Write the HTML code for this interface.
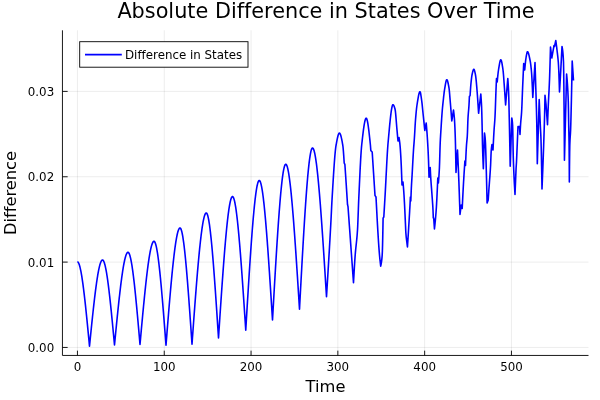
<!DOCTYPE html>
<html lang="en"><head><meta charset="utf-8"><title>Absolute Difference in States Over Time</title>
<style>html,body{margin:0;padding:0;background:#fff;overflow:hidden}svg{display:block}text{font-variant-ligatures:none;font-feature-settings:"liga" 0,"clig" 0;font-kerning:normal}</style></head>
<body>
<svg width="600" height="400" viewBox="0 0 600 400" font-family='"DejaVu Sans","Liberation Sans",sans-serif'>
<rect width="600" height="400" fill="#fff"/>
<g stroke="#000" stroke-opacity="0.075" stroke-width="1">
<line x1="77.45" y1="30.3" x2="77.45" y2="355.45"/>
<line x1="164.25" y1="30.3" x2="164.25" y2="355.45"/>
<line x1="251.05" y1="30.3" x2="251.05" y2="355.45"/>
<line x1="337.85" y1="30.3" x2="337.85" y2="355.45"/>
<line x1="424.65" y1="30.3" x2="424.65" y2="355.45"/>
<line x1="511.45" y1="30.3" x2="511.45" y2="355.45"/>
<line x1="62.45" y1="347.45" x2="588.5" y2="347.45"/>
<line x1="62.45" y1="262.10" x2="588.5" y2="262.10"/>
<line x1="62.45" y1="176.75" x2="588.5" y2="176.75"/>
<line x1="62.45" y1="91.40" x2="588.5" y2="91.40"/>
</g>
<g stroke="#000" stroke-width="0.9" fill="none">
<path d="M62.45,30.3 V355.45 H588.5" stroke-linejoin="miter"/>
<line x1="77.45" y1="355.45" x2="77.45" y2="350.65"/>
<line x1="164.25" y1="355.45" x2="164.25" y2="350.65"/>
<line x1="251.05" y1="355.45" x2="251.05" y2="350.65"/>
<line x1="337.85" y1="355.45" x2="337.85" y2="350.65"/>
<line x1="424.65" y1="355.45" x2="424.65" y2="350.65"/>
<line x1="511.45" y1="355.45" x2="511.45" y2="350.65"/>
<line x1="62.45" y1="347.45" x2="67.65" y2="347.45"/>
<line x1="62.45" y1="262.10" x2="67.65" y2="262.10"/>
<line x1="62.45" y1="176.75" x2="67.65" y2="176.75"/>
<line x1="62.45" y1="91.40" x2="67.65" y2="91.40"/>
</g>
<g font-size="11.85" fill="#000">
<text x="77.45" y="371.4" text-anchor="middle">0</text>
<text x="164.25" y="371.4" text-anchor="middle">100</text>
<text x="251.05" y="371.4" text-anchor="middle">200</text>
<text x="337.85" y="371.4" text-anchor="middle">300</text>
<text x="424.65" y="371.4" text-anchor="middle">400</text>
<text x="511.45" y="371.4" text-anchor="middle">500</text>
<text x="54.2" y="351.85" text-anchor="end">0.00</text>
<text x="54.2" y="266.50" text-anchor="end">0.01</text>
<text x="54.2" y="181.15" text-anchor="end">0.02</text>
<text x="54.2" y="95.80" text-anchor="end">0.03</text>
</g>
<text x="325.5" y="392" font-size="16.3" text-anchor="middle">Time</text>
<text transform="translate(16.3,193) rotate(-90)" font-size="16.3" text-anchor="middle">Difference</text>
<text x="326.0" y="18" font-size="20.8" text-anchor="middle">Absolute Difference in States Over Time</text>
<clipPath id="c"><rect x="62.45" y="30.3" width="526.05" height="325.15"/></clipPath>
<path clip-path="url(#c)" d="M77.40,261.80 L77.62,261.84 L77.84,261.97 L78.06,262.17 L78.28,262.45 L78.50,262.81 L78.72,263.25 L78.94,263.76 L79.16,264.35 L79.38,265.00 L79.60,265.73 L79.82,266.52 L80.04,267.38 L80.26,268.31 L80.48,269.30 L80.70,270.35 L80.92,271.46 L81.14,272.64 L81.36,273.87 L81.58,275.15 L81.80,276.49 L82.02,277.89 L82.24,279.33 L82.46,280.83 L82.68,282.38 L82.90,283.97 L83.12,285.61 L83.34,287.29 L83.56,289.01 L83.78,290.78 L84.00,292.58 L84.22,294.42 L84.44,296.30 L84.66,298.22 L84.88,300.17 L85.10,302.14 L85.32,304.15 L85.54,306.19 L85.76,308.26 L85.98,310.35 L86.20,312.47 L86.42,314.61 L86.64,316.77 L86.86,318.95 L87.08,321.15 L87.30,323.36 L87.52,325.59 L87.74,327.84 L87.96,330.09 L88.18,332.36 L88.40,334.64 L88.62,336.92 L88.84,339.21 L89.06,341.50 L89.28,343.80 L89.50,346.10 L89.72,343.95 L89.93,341.80 L90.15,339.65 L90.37,337.50 L90.58,335.36 L90.80,333.23 L91.02,331.10 L91.23,328.98 L91.45,326.87 L91.67,324.77 L91.88,322.69 L92.10,320.61 L92.32,318.56 L92.53,316.51 L92.75,314.49 L92.97,312.48 L93.18,310.49 L93.40,308.52 L93.62,306.57 L93.83,304.64 L94.05,302.74 L94.27,300.87 L94.48,299.02 L94.70,297.20 L94.92,295.40 L95.13,293.64 L95.35,291.91 L95.57,290.21 L95.78,288.54 L96.00,286.91 L96.22,285.31 L96.43,283.75 L96.65,282.23 L96.87,280.75 L97.08,279.31 L97.30,277.91 L97.52,276.55 L97.73,275.24 L97.95,273.98 L98.17,272.76 L98.38,271.58 L98.60,270.46 L98.82,269.39 L99.03,268.37 L99.25,267.40 L99.47,266.48 L99.68,265.63 L99.90,264.82 L100.12,264.08 L100.33,263.39 L100.55,262.76 L100.77,262.19 L100.98,261.69 L101.20,261.25 L101.42,260.87 L101.63,260.56 L101.85,260.32 L102.07,260.14 L102.28,260.04 L102.50,260.00 L102.72,260.04 L102.94,260.17 L103.15,260.37 L103.37,260.66 L103.59,261.02 L103.81,261.46 L104.03,261.98 L104.25,262.56 L104.46,263.22 L104.68,263.95 L104.90,264.75 L105.12,265.62 L105.34,266.55 L105.55,267.55 L105.77,268.61 L105.99,269.73 L106.21,270.91 L106.43,272.15 L106.65,273.45 L106.86,274.80 L107.08,276.20 L107.30,277.66 L107.52,279.17 L107.74,280.72 L107.95,282.33 L108.17,283.97 L108.39,285.67 L108.61,287.40 L108.83,289.18 L109.05,291.00 L109.26,292.86 L109.48,294.75 L109.70,296.68 L109.92,298.64 L110.14,300.63 L110.35,302.66 L110.57,304.71 L110.79,306.79 L111.01,308.90 L111.23,311.03 L111.45,313.18 L111.66,315.36 L111.88,317.56 L112.10,319.77 L112.32,322.00 L112.54,324.25 L112.75,326.51 L112.97,328.78 L113.19,331.06 L113.41,333.35 L113.63,335.65 L113.85,337.96 L114.06,340.27 L114.28,342.58 L114.50,344.90 L114.72,342.66 L114.94,340.42 L115.15,338.18 L115.37,335.95 L115.59,333.72 L115.81,331.50 L116.02,329.28 L116.24,327.08 L116.46,324.88 L116.68,322.69 L116.90,320.52 L117.11,318.35 L117.33,316.20 L117.55,314.07 L117.77,311.95 L117.98,309.85 L118.20,307.77 L118.42,305.71 L118.64,303.67 L118.85,301.65 L119.07,299.65 L119.29,297.68 L119.51,295.74 L119.73,293.82 L119.94,291.93 L120.16,290.07 L120.38,288.24 L120.60,286.44 L120.81,284.67 L121.03,282.94 L121.25,281.24 L121.47,279.58 L121.69,277.95 L121.90,276.36 L122.12,274.82 L122.34,273.31 L122.56,271.85 L122.77,270.43 L122.99,269.05 L123.21,267.72 L123.43,266.44 L123.65,265.20 L123.86,264.01 L124.08,262.87 L124.30,261.79 L124.52,260.75 L124.73,259.77 L124.95,258.85 L125.17,257.98 L125.39,257.17 L125.60,256.41 L125.82,255.72 L126.04,255.09 L126.26,254.51 L126.48,254.00 L126.69,253.56 L126.91,253.18 L127.13,252.87 L127.35,252.62 L127.56,252.44 L127.78,252.34 L128.00,252.30 L128.22,252.35 L128.44,252.48 L128.65,252.70 L128.87,253.01 L129.09,253.41 L129.31,253.88 L129.53,254.44 L129.75,255.08 L129.96,255.80 L130.18,256.59 L130.40,257.46 L130.62,258.40 L130.84,259.41 L131.05,260.49 L131.27,261.64 L131.49,262.86 L131.71,264.14 L131.93,265.48 L132.15,266.89 L132.36,268.35 L132.58,269.88 L132.80,271.46 L133.02,273.09 L133.24,274.78 L133.45,276.52 L133.67,278.31 L133.89,280.15 L134.11,282.03 L134.33,283.96 L134.55,285.93 L134.76,287.94 L134.98,290.00 L135.20,292.09 L135.42,294.22 L135.64,296.38 L135.85,298.57 L136.07,300.80 L136.29,303.06 L136.51,305.34 L136.73,307.66 L136.95,309.99 L137.16,312.35 L137.38,314.74 L137.60,317.14 L137.82,319.56 L138.04,322.00 L138.25,324.45 L138.47,326.91 L138.69,329.39 L138.91,331.88 L139.13,334.37 L139.35,336.87 L139.56,339.38 L139.78,341.89 L140.00,344.40 L140.22,341.98 L140.44,339.57 L140.66,337.16 L140.88,334.75 L141.09,332.34 L141.31,329.94 L141.53,327.55 L141.75,325.17 L141.97,322.80 L142.19,320.43 L142.41,318.08 L142.62,315.74 L142.84,313.42 L143.06,311.11 L143.28,308.82 L143.50,306.54 L143.72,304.29 L143.94,302.05 L144.16,299.84 L144.38,297.65 L144.59,295.48 L144.81,293.33 L145.03,291.22 L145.25,289.12 L145.47,287.06 L145.69,285.03 L145.91,283.03 L146.12,281.06 L146.34,279.12 L146.56,277.22 L146.78,275.35 L147.00,273.52 L147.22,271.73 L147.44,269.97 L147.66,268.26 L147.88,266.58 L148.09,264.95 L148.31,263.37 L148.53,261.83 L148.75,260.33 L148.97,258.88 L149.19,257.48 L149.41,256.13 L149.62,254.83 L149.84,253.58 L150.06,252.39 L150.28,251.25 L150.50,250.16 L150.72,249.13 L150.94,248.16 L151.16,247.25 L151.38,246.40 L151.59,245.61 L151.81,244.88 L152.03,244.21 L152.25,243.62 L152.47,243.08 L152.69,242.62 L152.91,242.22 L153.12,241.89 L153.34,241.63 L153.56,241.45 L153.78,241.34 L154.00,241.30 L154.22,241.35 L154.44,241.50 L154.65,241.75 L154.87,242.10 L155.09,242.55 L155.31,243.09 L155.53,243.72 L155.75,244.43 L155.96,245.24 L156.18,246.14 L156.40,247.11 L156.62,248.17 L156.84,249.31 L157.05,250.53 L157.27,251.83 L157.49,253.20 L157.71,254.64 L157.93,256.16 L158.15,257.74 L158.36,259.39 L158.58,261.11 L158.80,262.89 L159.02,264.73 L159.24,266.63 L159.45,268.60 L159.67,270.61 L159.89,272.68 L160.11,274.81 L160.33,276.98 L160.55,279.20 L160.76,281.47 L160.98,283.78 L161.20,286.14 L161.42,288.54 L161.64,290.98 L161.85,293.45 L162.07,295.96 L162.29,298.51 L162.51,301.08 L162.73,303.69 L162.95,306.32 L163.16,308.98 L163.38,311.67 L163.60,314.38 L163.82,317.10 L164.04,319.85 L164.25,322.61 L164.47,325.39 L164.69,328.18 L164.91,330.98 L165.13,333.80 L165.35,336.62 L165.56,339.44 L165.78,342.27 L166.00,345.10 L166.22,342.36 L166.44,339.61 L166.66,336.87 L166.88,334.14 L167.09,331.41 L167.31,328.68 L167.53,325.96 L167.75,323.26 L167.97,320.56 L168.19,317.88 L168.41,315.21 L168.62,312.55 L168.84,309.91 L169.06,307.29 L169.28,304.69 L169.50,302.10 L169.72,299.54 L169.94,297.00 L170.16,294.49 L170.38,292.00 L170.59,289.53 L170.81,287.10 L171.03,284.69 L171.25,282.32 L171.47,279.98 L171.69,277.67 L171.91,275.39 L172.12,273.16 L172.34,270.96 L172.56,268.79 L172.78,266.67 L173.00,264.59 L173.22,262.56 L173.44,260.56 L173.66,258.62 L173.88,256.72 L174.09,254.87 L174.31,253.06 L174.53,251.31 L174.75,249.61 L174.97,247.97 L175.19,246.38 L175.41,244.84 L175.62,243.37 L175.84,241.95 L176.06,240.59 L176.28,239.30 L176.50,238.06 L176.72,236.89 L176.94,235.79 L177.16,234.76 L177.38,233.79 L177.59,232.89 L177.81,232.06 L178.03,231.31 L178.25,230.63 L178.47,230.02 L178.69,229.50 L178.91,229.04 L179.12,228.67 L179.34,228.38 L179.56,228.17 L179.78,228.04 L180.00,228.00 L180.22,228.06 L180.44,228.23 L180.65,228.51 L180.87,228.90 L181.09,229.40 L181.31,230.00 L181.53,230.70 L181.75,231.51 L181.96,232.41 L182.18,233.41 L182.40,234.50 L182.62,235.69 L182.84,236.96 L183.05,238.33 L183.27,239.78 L183.49,241.31 L183.71,242.92 L183.93,244.62 L184.15,246.39 L184.36,248.24 L184.58,250.16 L184.80,252.15 L185.02,254.21 L185.24,256.34 L185.45,258.53 L185.67,260.79 L185.89,263.10 L186.11,265.48 L186.33,267.91 L186.55,270.39 L186.76,272.93 L186.98,275.52 L187.20,278.16 L187.42,280.84 L187.64,283.56 L187.85,286.33 L188.07,289.14 L188.29,291.99 L188.51,294.87 L188.73,297.78 L188.95,300.73 L189.16,303.70 L189.38,306.71 L189.60,309.73 L189.82,312.79 L190.04,315.86 L190.25,318.95 L190.47,322.06 L190.69,325.18 L190.91,328.31 L191.13,331.46 L191.35,334.61 L191.56,337.77 L191.78,340.93 L192.00,344.10 L192.22,341.07 L192.44,338.05 L192.66,335.03 L192.88,332.01 L193.10,329.00 L193.32,326.00 L193.53,323.00 L193.75,320.02 L193.97,317.05 L194.19,314.08 L194.41,311.14 L194.63,308.21 L194.85,305.29 L195.07,302.40 L195.29,299.52 L195.51,296.67 L195.73,293.84 L195.95,291.04 L196.17,288.25 L196.38,285.50 L196.60,282.78 L196.82,280.08 L197.04,277.42 L197.26,274.79 L197.48,272.19 L197.70,269.64 L197.92,267.11 L198.14,264.63 L198.36,262.19 L198.58,259.78 L198.80,257.42 L199.02,255.11 L199.23,252.84 L199.45,250.62 L199.67,248.45 L199.89,246.32 L200.11,244.25 L200.33,242.23 L200.55,240.27 L200.77,238.36 L200.99,236.51 L201.21,234.72 L201.43,232.99 L201.65,231.32 L201.87,229.71 L202.08,228.17 L202.30,226.69 L202.52,225.28 L202.74,223.94 L202.96,222.67 L203.18,221.47 L203.40,220.34 L203.62,219.29 L203.84,218.31 L204.06,217.42 L204.28,216.60 L204.50,215.86 L204.72,215.20 L204.93,214.62 L205.15,214.13 L205.37,213.73 L205.59,213.41 L205.81,213.18 L206.03,213.05 L206.25,213.00 L206.47,213.06 L206.69,213.24 L206.91,213.53 L207.12,213.93 L207.34,214.45 L207.56,215.07 L207.78,215.81 L208.00,216.64 L208.22,217.58 L208.44,218.62 L208.66,219.76 L208.88,220.99 L209.09,222.32 L209.31,223.73 L209.53,225.24 L209.75,226.84 L209.97,228.52 L210.19,230.28 L210.41,232.13 L210.62,234.05 L210.84,236.05 L211.06,238.13 L211.28,240.28 L211.50,242.50 L211.72,244.78 L211.94,247.14 L212.16,249.55 L212.38,252.03 L212.59,254.57 L212.81,257.17 L213.03,259.82 L213.25,262.52 L213.47,265.28 L213.69,268.08 L213.91,270.94 L214.12,273.83 L214.34,276.77 L214.56,279.75 L214.78,282.77 L215.00,285.83 L215.22,288.92 L215.44,292.04 L215.66,295.19 L215.88,298.37 L216.09,301.57 L216.31,304.80 L216.53,308.05 L216.75,311.32 L216.97,314.60 L217.19,317.90 L217.41,321.22 L217.62,324.54 L217.84,327.87 L218.06,331.21 L218.28,334.55 L218.50,337.90 L218.72,334.59 L218.94,331.28 L219.16,327.97 L219.38,324.67 L219.59,321.38 L219.81,318.09 L220.03,314.81 L220.25,311.54 L220.47,308.29 L220.69,305.05 L220.91,301.83 L221.12,298.63 L221.34,295.44 L221.56,292.28 L221.78,289.13 L222.00,286.02 L222.22,282.92 L222.44,279.86 L222.66,276.83 L222.88,273.82 L223.09,270.85 L223.31,267.91 L223.53,265.01 L223.75,262.14 L223.97,259.32 L224.19,256.53 L224.41,253.79 L224.62,251.09 L224.84,248.43 L225.06,245.83 L225.28,243.27 L225.50,240.76 L225.72,238.30 L225.94,235.89 L226.16,233.55 L226.38,231.25 L226.59,229.02 L226.81,226.84 L227.03,224.73 L227.25,222.68 L227.47,220.69 L227.69,218.78 L227.91,216.92 L228.12,215.14 L228.34,213.43 L228.56,211.79 L228.78,210.23 L229.00,208.74 L229.22,207.33 L229.44,206.00 L229.66,204.75 L229.88,203.59 L230.09,202.50 L230.31,201.51 L230.53,200.59 L230.75,199.77 L230.97,199.04 L231.19,198.40 L231.41,197.86 L231.62,197.41 L231.84,197.06 L232.06,196.80 L232.28,196.65 L232.50,196.60 L232.72,196.65 L232.93,196.81 L233.15,197.08 L233.37,197.44 L233.59,197.91 L233.80,198.47 L234.02,199.14 L234.24,199.89 L234.45,200.74 L234.67,201.69 L234.89,202.72 L235.11,203.84 L235.32,205.05 L235.54,206.34 L235.76,207.72 L235.98,209.17 L236.19,210.71 L236.41,212.32 L236.63,214.01 L236.84,215.77 L237.06,217.61 L237.28,219.52 L237.50,221.49 L237.71,223.53 L237.93,225.64 L238.15,227.81 L238.36,230.04 L238.58,232.34 L238.80,234.69 L239.02,237.09 L239.23,239.56 L239.45,242.07 L239.67,244.64 L239.89,247.25 L240.10,249.92 L240.32,252.63 L240.54,255.38 L240.75,258.17 L240.97,261.01 L241.19,263.88 L241.41,266.80 L241.62,269.74 L241.84,272.72 L242.06,275.74 L242.27,278.78 L242.49,281.85 L242.71,284.95 L242.93,288.07 L243.14,291.21 L243.36,294.38 L243.58,297.57 L243.80,300.77 L244.01,303.99 L244.23,307.22 L244.45,310.47 L244.66,313.72 L244.88,316.99 L245.10,320.26 L245.32,323.54 L245.53,326.82 L245.75,330.10 L245.97,326.48 L246.19,322.86 L246.40,319.25 L246.62,315.64 L246.84,312.04 L247.06,308.45 L247.27,304.87 L247.49,301.31 L247.71,297.75 L247.93,294.22 L248.15,290.70 L248.36,287.21 L248.58,283.74 L248.80,280.29 L249.02,276.87 L249.23,273.48 L249.45,270.11 L249.67,266.78 L249.89,263.48 L250.10,260.22 L250.32,257.00 L250.54,253.82 L250.76,250.67 L250.98,247.57 L251.19,244.52 L251.41,241.51 L251.63,238.55 L251.85,235.65 L252.06,232.79 L252.28,229.99 L252.50,227.25 L252.72,224.56 L252.94,221.94 L253.15,219.38 L253.37,216.88 L253.59,214.45 L253.81,212.08 L254.02,209.79 L254.24,207.56 L254.46,205.41 L254.68,203.34 L254.90,201.34 L255.11,199.42 L255.33,197.58 L255.55,195.83 L255.77,194.16 L255.98,192.58 L256.20,191.08 L256.42,189.68 L256.64,188.36 L256.85,187.15 L257.07,186.02 L257.29,185.00 L257.51,184.08 L257.73,183.25 L257.94,182.53 L258.16,181.92 L258.38,181.41 L258.60,181.02 L258.81,180.73 L259.03,180.56 L259.25,180.50 L259.47,180.56 L259.68,180.72 L259.90,181.00 L260.12,181.38 L260.34,181.87 L260.55,182.46 L260.77,183.15 L260.99,183.94 L261.20,184.83 L261.42,185.82 L261.64,186.90 L261.86,188.07 L262.07,189.33 L262.29,190.68 L262.51,192.12 L262.73,193.64 L262.94,195.24 L263.16,196.93 L263.38,198.69 L263.59,200.54 L263.81,202.45 L264.03,204.45 L264.25,206.51 L264.46,208.64 L264.68,210.85 L264.90,213.11 L265.11,215.45 L265.33,217.84 L265.55,220.30 L265.77,222.81 L265.98,225.39 L266.20,228.02 L266.42,230.70 L266.64,233.43 L266.85,236.21 L267.07,239.04 L267.29,241.92 L267.50,244.84 L267.72,247.80 L267.94,250.81 L268.16,253.85 L268.37,256.93 L268.59,260.05 L268.81,263.19 L269.02,266.37 L269.24,269.58 L269.46,272.82 L269.68,276.08 L269.89,279.37 L270.11,282.68 L270.33,286.00 L270.55,289.35 L270.76,292.71 L270.98,296.09 L271.20,299.48 L271.41,302.89 L271.63,306.30 L271.85,309.72 L272.07,313.14 L272.28,316.57 L272.50,320.00 L272.72,316.17 L272.93,312.34 L273.15,308.52 L273.37,304.70 L273.59,300.89 L273.80,297.09 L274.02,293.31 L274.24,289.54 L274.45,285.78 L274.67,282.04 L274.89,278.33 L275.11,274.63 L275.32,270.96 L275.54,267.32 L275.76,263.71 L275.98,260.13 L276.19,256.58 L276.41,253.06 L276.63,249.58 L276.84,246.15 L277.06,242.75 L277.28,239.40 L277.50,236.09 L277.71,232.82 L277.93,229.61 L278.15,226.45 L278.36,223.35 L278.58,220.29 L278.80,217.30 L279.02,214.37 L279.23,211.49 L279.45,208.69 L279.67,205.94 L279.89,203.27 L280.10,200.66 L280.32,198.13 L280.54,195.67 L280.75,193.29 L280.97,190.98 L281.19,188.76 L281.41,186.62 L281.62,184.56 L281.84,182.59 L282.06,180.71 L282.27,178.92 L282.49,177.22 L282.71,175.61 L282.93,174.11 L283.14,172.70 L283.36,171.39 L283.58,170.19 L283.80,169.09 L284.01,168.09 L284.23,167.21 L284.45,166.44 L284.66,165.78 L284.88,165.23 L285.10,164.81 L285.32,164.50 L285.53,164.31 L285.75,164.25 L285.97,164.30 L286.19,164.47 L286.40,164.73 L286.62,165.11 L286.84,165.58 L287.06,166.16 L287.28,166.83 L287.50,167.61 L287.71,168.47 L287.93,169.43 L288.15,170.49 L288.37,171.63 L288.59,172.87 L288.81,174.18 L289.02,175.59 L289.24,177.08 L289.46,178.65 L289.68,180.30 L289.90,182.03 L290.12,183.83 L290.33,185.71 L290.55,187.66 L290.77,189.68 L290.99,191.78 L291.21,193.94 L291.42,196.17 L291.64,198.46 L291.86,200.81 L292.08,203.22 L292.30,205.70 L292.52,208.23 L292.73,210.82 L292.95,213.46 L293.17,216.15 L293.39,218.89 L293.61,221.68 L293.83,224.52 L294.04,227.41 L294.26,230.33 L294.48,233.30 L294.70,236.31 L294.92,239.36 L295.13,242.44 L295.35,245.56 L295.57,248.71 L295.79,251.89 L296.01,255.11 L296.23,258.35 L296.44,261.61 L296.66,264.90 L296.88,268.21 L297.10,271.55 L297.32,274.90 L297.54,278.27 L297.75,281.66 L297.97,285.06 L298.19,288.47 L298.41,291.89 L298.63,295.32 L298.85,298.76 L299.06,302.20 L299.28,305.65 L299.50,309.10 L299.72,305.07 L299.93,301.05 L300.15,297.03 L300.37,293.01 L300.58,289.01 L300.80,285.02 L301.02,281.04 L301.23,277.07 L301.45,273.12 L301.67,269.20 L301.88,265.29 L302.10,261.41 L302.32,257.56 L302.53,253.74 L302.75,249.95 L302.97,246.19 L303.18,242.46 L303.40,238.78 L303.62,235.14 L303.83,231.53 L304.05,227.98 L304.27,224.47 L304.48,221.00 L304.70,217.60 L304.92,214.24 L305.13,210.94 L305.35,207.70 L305.57,204.52 L305.78,201.40 L306.00,198.34 L306.22,195.36 L306.43,192.44 L306.65,189.59 L306.87,186.82 L307.08,184.13 L307.30,181.51 L307.52,178.97 L307.73,176.52 L307.95,174.15 L308.17,171.87 L308.38,169.67 L308.60,167.57 L308.82,165.57 L309.03,163.66 L309.25,161.84 L309.47,160.13 L309.68,158.52 L309.90,157.02 L310.12,155.63 L310.33,154.34 L310.55,153.17 L310.77,152.11 L310.98,151.16 L311.20,150.34 L311.42,149.63 L311.63,149.05 L311.85,148.59 L312.07,148.27 L312.28,148.07 L312.50,148.00 L312.72,148.05 L312.94,148.22 L313.16,148.48 L313.38,148.85 L313.59,149.33 L313.81,149.90 L314.03,150.57 L314.25,151.34 L314.47,152.20 L314.69,153.16 L314.91,154.21 L315.12,155.35 L315.34,156.57 L315.56,157.89 L315.78,159.29 L316.00,160.77 L316.22,162.33 L316.44,163.98 L316.66,165.70 L316.88,167.50 L317.09,169.37 L317.31,171.32 L317.53,173.34 L317.75,175.43 L317.97,177.58 L318.19,179.81 L318.41,182.09 L318.62,184.44 L318.84,186.85 L319.06,189.32 L319.28,191.85 L319.50,194.44 L319.72,197.08 L319.94,199.77 L320.16,202.51 L320.38,205.30 L320.59,208.14 L320.81,211.03 L321.03,213.96 L321.25,216.93 L321.47,219.94 L321.69,223.00 L321.91,226.09 L322.12,229.21 L322.34,232.37 L322.56,235.56 L322.78,238.78 L323.00,242.04 L323.22,245.31 L323.44,248.62 L323.66,251.95 L323.88,255.30 L324.09,258.67 L324.31,262.06 L324.53,265.46 L324.75,268.88 L324.97,272.32 L325.19,275.76 L325.41,279.22 L325.62,282.69 L325.84,286.16 L326.06,289.64 L326.28,293.12 L326.50,296.60 L326.71,293.13 L326.93,289.66 L327.14,286.19 L327.36,282.71 L327.57,279.22 L327.79,275.71 L328.00,272.19 L328.21,268.66 L328.43,265.10 L328.64,261.52 L328.86,257.92 L329.07,254.29 L329.29,250.63 L329.50,246.94 L329.71,243.21 L329.93,239.45 L330.14,235.65 L330.36,231.81 L330.57,227.92 L330.79,223.98 L331.00,220.00 L331.20,216.06 L331.40,211.87 L331.60,207.65 L331.80,203.62 L332.00,200.00 L332.22,196.38 L332.43,192.75 L332.65,189.12 L332.86,185.51 L333.08,181.94 L333.29,178.43 L333.51,174.98 L333.73,171.62 L333.94,168.37 L334.16,165.23 L334.37,162.22 L334.59,159.37 L334.81,156.69 L335.02,154.18 L335.24,151.88 L335.45,149.80 L335.67,147.94 L335.88,146.34 L336.10,145.00 L336.32,143.78 L336.54,142.58 L336.76,141.41 L336.98,140.28 L337.20,139.19 L337.42,138.17 L337.64,137.20 L337.86,136.32 L338.08,135.52 L338.30,134.82 L338.52,134.23 L338.74,133.75 L338.96,133.40 L339.18,133.18 L339.40,133.10 L339.61,133.16 L339.82,133.34 L340.03,133.63 L340.24,134.02 L340.45,134.52 L340.66,135.11 L340.87,135.79 L341.07,136.55 L341.28,137.40 L341.49,138.31 L341.70,139.29 L341.91,140.33 L342.12,141.43 L342.33,142.58 L342.54,143.77 L342.75,145.00 L342.96,146.51 L343.16,148.51 L343.37,150.91 L343.58,153.65 L343.79,156.63 L343.99,159.77 L344.20,163.00 L344.38,163.38 L344.55,163.75 L344.72,164.12 L344.90,164.50 L345.10,167.48 L345.30,170.47 L345.50,173.47 L345.70,176.47 L345.90,179.48 L346.10,182.51 L346.30,185.56 L346.50,188.63 L346.70,191.73 L346.90,194.85 L347.10,198.00 L347.30,201.22 L347.50,204.50 L347.67,205.17 L347.83,205.83 L348.00,206.50 L348.22,209.53 L348.44,212.57 L348.66,215.60 L348.88,218.64 L349.09,221.67 L349.31,224.71 L349.53,227.74 L349.75,230.77 L349.97,233.80 L350.19,236.83 L350.41,239.86 L350.62,242.89 L350.84,245.92 L351.06,248.95 L351.28,251.97 L351.50,255.00 L351.70,257.76 L351.90,260.53 L352.10,263.29 L352.30,266.05 L352.50,268.81 L352.70,271.57 L352.90,274.33 L353.10,277.08 L353.30,279.84 L353.50,282.60 L353.71,278.83 L353.93,275.09 L354.14,271.41 L354.35,267.82 L354.56,264.35 L354.77,261.04 L354.99,257.91 L355.20,255.00 L355.41,252.42 L355.62,250.11 L355.83,248.02 L356.04,246.06 L356.25,244.16 L356.45,242.26 L356.66,240.27 L356.87,238.12 L357.08,235.74 L357.29,233.06 L357.50,230.00 L357.72,225.92 L357.93,220.75 L358.15,214.93 L358.37,208.91 L358.58,203.12 L358.80,198.00 L359.01,193.54 L359.21,189.03 L359.42,184.52 L359.63,180.03 L359.84,175.62 L360.04,171.30 L360.25,167.13 L360.46,163.14 L360.66,159.36 L360.87,155.83 L361.08,152.60 L361.29,149.69 L361.49,147.14 L361.70,145.00 L361.91,143.01 L362.13,141.05 L362.34,139.11 L362.56,137.22 L362.77,135.37 L362.99,133.57 L363.20,131.83 L363.41,130.17 L363.63,128.58 L363.84,127.07 L364.06,125.66 L364.27,124.34 L364.49,123.13 L364.70,122.04 L364.91,121.07 L365.13,120.22 L365.34,119.51 L365.56,118.95 L365.77,118.54 L365.99,118.29 L366.20,118.20 L366.41,118.30 L366.62,118.58 L366.83,119.05 L367.04,119.68 L367.25,120.48 L367.46,121.42 L367.67,122.51 L367.88,123.73 L368.09,125.06 L368.30,126.51 L368.51,128.06 L368.72,129.70 L368.93,131.43 L369.14,133.23 L369.35,135.09 L369.56,137.00 L369.77,138.96 L369.98,140.95 L370.19,142.97 L370.40,145.00 L370.60,147.45 L370.80,150.50 L371.00,150.71 L371.20,150.93 L371.40,151.14 L371.60,151.36 L371.80,151.57 L372.00,151.79 L372.20,152.00 L372.42,155.35 L372.63,158.69 L372.85,162.04 L373.06,165.38 L373.28,168.73 L373.49,172.08 L373.71,175.42 L373.92,178.77 L374.14,182.12 L374.35,185.46 L374.57,188.81 L374.78,192.15 L375.00,195.50 L375.20,195.80 L375.40,196.10 L375.60,196.40 L375.80,196.70 L376.00,197.00 L376.22,201.19 L376.44,205.37 L376.66,209.53 L376.88,213.64 L377.09,217.70 L377.31,221.70 L377.53,225.61 L377.75,229.43 L377.97,233.14 L378.19,236.73 L378.41,240.19 L378.62,243.50 L378.84,246.65 L379.06,249.62 L379.28,252.41 L379.50,255.00 L379.70,257.17 L379.90,259.17 L380.10,261.02 L380.30,262.77 L380.50,264.45 L380.70,266.10 L380.91,265.13 L381.13,264.09 L381.34,262.89 L381.56,261.46 L381.77,259.72 L381.99,257.59 L382.20,255.00 L382.38,251.20 L382.56,245.00 L382.74,237.00 L382.92,227.80 L383.10,218.00 L383.28,217.75 L383.45,217.50 L383.62,217.25 L383.80,217.00 L384.00,213.70 L384.20,210.40 L384.40,207.09 L384.60,203.75 L384.80,200.39 L385.00,197.00 L385.21,193.38 L385.41,189.59 L385.62,185.66 L385.83,181.65 L386.03,177.58 L386.24,173.49 L386.45,169.43 L386.65,165.44 L386.86,161.54 L387.07,157.79 L387.27,154.22 L387.48,150.86 L387.69,147.76 L387.89,144.96 L388.10,142.50 L388.31,140.14 L388.53,137.77 L388.74,135.40 L388.95,133.04 L389.17,130.71 L389.38,128.41 L389.59,126.16 L389.80,123.95 L390.02,121.82 L390.23,119.76 L390.44,117.79 L390.66,115.91 L390.87,114.14 L391.08,112.49 L391.30,110.97 L391.51,109.58 L391.72,108.35 L391.93,107.28 L392.15,106.38 L392.36,105.66 L392.57,105.13 L392.79,104.81 L393.00,104.70 L393.20,104.76 L393.40,104.92 L393.60,105.18 L393.80,105.53 L394.00,105.96 L394.20,106.46 L394.40,107.02 L394.60,107.64 L394.80,108.30 L395.00,109.00 L395.20,109.97 L395.40,111.41 L395.60,113.23 L395.80,115.35 L396.00,117.70 L396.20,120.19 L396.40,122.75 L396.60,125.29 L396.80,127.73 L397.00,130.00 L397.20,132.17 L397.40,134.36 L397.60,136.56 L397.80,138.78 L398.00,141.00 L398.20,140.30 L398.40,139.60 L398.60,138.90 L398.80,138.20 L399.00,137.50 L399.20,138.76 L399.40,140.08 L399.60,141.52 L399.80,143.14 L400.00,145.00 L400.20,147.24 L400.40,149.92 L400.60,152.98 L400.80,156.36 L401.00,160.00 L401.20,164.10 L401.40,168.80 L401.60,173.95 L401.80,179.40 L402.00,185.00 L402.20,184.40 L402.40,183.80 L402.60,183.20 L402.80,182.60 L403.00,182.00 L403.20,184.35 L403.40,186.76 L403.60,189.30 L403.80,192.03 L404.00,195.00 L404.20,198.28 L404.40,201.85 L404.60,205.68 L404.80,209.73 L405.00,213.96 L405.20,218.34 L405.40,222.83 L405.60,227.40 L405.80,232.00 L406.00,234.50 L406.20,237.00 L406.41,238.67 L406.62,240.33 L406.82,242.00 L407.03,243.67 L407.24,245.33 L407.45,247.00 L407.65,243.82 L407.86,240.63 L408.06,237.42 L408.27,234.20 L408.47,230.94 L408.67,227.65 L408.88,224.32 L409.08,220.94 L409.28,217.49 L409.49,213.99 L409.69,210.41 L409.90,206.75 L410.10,203.00 L410.25,200.08 L410.40,197.00 L410.60,199.00 L410.80,201.00 L410.98,196.70 L411.15,192.52 L411.32,188.58 L411.50,185.00 L411.70,181.46 L411.90,178.26 L412.10,175.00 L412.30,171.46 L412.50,167.77 L412.70,164.02 L412.90,160.28 L413.10,156.64 L413.30,153.18 L413.50,150.00 L413.68,147.43 L413.86,145.08 L414.04,142.82 L414.22,140.50 L414.40,138.00 L414.58,135.12 L414.77,131.97 L414.95,128.71 L415.13,125.52 L415.32,122.56 L415.50,120.00 L415.71,117.36 L415.93,114.84 L416.14,112.47 L416.36,110.27 L416.57,108.28 L416.79,106.51 L417.00,105.00 L417.21,103.62 L417.43,102.24 L417.64,100.88 L417.86,99.56 L418.07,98.28 L418.29,97.07 L418.50,95.94 L418.71,94.91 L418.93,94.00 L419.14,93.21 L419.36,92.58 L419.57,92.10 L419.79,91.80 L420.00,91.70 L420.20,91.91 L420.40,92.50 L420.60,93.39 L420.80,94.51 L421.00,95.81 L421.20,97.20 L421.40,98.62 L421.60,100.00 L421.81,101.58 L422.03,103.41 L422.24,105.42 L422.46,107.55 L422.67,109.73 L422.89,111.90 L423.10,114.00 L423.31,116.03 L423.53,118.07 L423.74,120.12 L423.95,122.19 L424.16,124.26 L424.38,126.34 L424.59,128.42 L424.80,130.50 L425.00,129.43 L425.20,128.36 L425.40,127.29 L425.60,126.21 L425.80,125.14 L426.00,124.07 L426.20,123.00 L426.38,125.11 L426.57,127.26 L426.75,129.48 L426.93,131.82 L427.12,134.31 L427.30,137.00 L427.50,140.11 L427.70,143.39 L427.90,146.94 L428.10,150.83 L428.30,155.15 L428.50,160.00 L428.67,164.94 L428.83,170.87 L429.00,177.30 L429.20,175.67 L429.40,174.03 L429.60,172.40 L429.80,170.77 L430.00,169.13 L430.20,167.50 L430.37,170.86 L430.53,174.07 L430.70,177.00 L430.92,180.37 L431.13,183.44 L431.35,186.32 L431.57,189.13 L431.78,191.99 L432.00,195.00 L432.20,197.76 L432.40,200.42 L432.60,203.19 L432.80,206.31 L433.00,210.00 L433.15,213.64 L433.30,218.00 L433.50,218.00 L433.70,218.00 L433.89,220.75 L434.07,223.50 L434.26,226.25 L434.45,229.00 L434.67,226.97 L434.89,224.91 L435.11,222.78 L435.32,220.55 L435.54,218.20 L435.76,215.67 L435.98,212.95 L436.20,210.00 L436.42,206.68 L436.63,202.88 L436.85,198.71 L437.07,194.27 L437.28,189.67 L437.50,185.00 L437.65,181.60 L437.80,178.00 L438.00,179.67 L438.20,181.33 L438.40,183.00 L438.60,180.53 L438.80,177.93 L439.00,175.06 L439.20,171.80 L439.40,168.00 L439.60,162.62 L439.80,155.69 L440.00,148.66 L440.20,143.00 L440.40,138.89 L440.60,135.36 L440.80,132.15 L441.00,129.00 L441.22,125.53 L441.43,122.12 L441.65,118.80 L441.87,115.64 L442.08,112.69 L442.30,110.00 L442.48,107.98 L442.66,106.11 L442.84,104.35 L443.02,102.66 L443.20,101.00 L443.42,98.98 L443.63,96.95 L443.85,94.98 L444.07,93.13 L444.28,91.44 L444.50,90.00 L444.71,88.72 L444.92,87.41 L445.13,86.12 L445.34,84.86 L445.55,83.68 L445.75,82.59 L445.96,81.63 L446.17,80.83 L446.38,80.22 L446.59,79.84 L446.80,79.70 L447.02,79.82 L447.24,80.15 L447.46,80.68 L447.68,81.38 L447.90,82.23 L448.12,83.22 L448.34,84.31 L448.56,85.48 L448.78,86.72 L449.00,88.00 L449.20,89.46 L449.40,91.39 L449.60,93.65 L449.80,96.10 L450.00,98.59 L450.20,101.00 L450.40,103.35 L450.60,105.76 L450.80,108.22 L451.00,110.72 L451.20,113.26 L451.40,115.83 L451.60,118.41 L451.80,121.00 L452.01,119.63 L452.23,118.25 L452.44,116.88 L452.65,115.50 L452.86,114.12 L453.07,112.75 L453.29,111.37 L453.50,110.00 L453.70,111.61 L453.90,113.32 L454.10,115.22 L454.30,117.42 L454.50,120.00 L454.70,123.22 L454.90,127.29 L455.10,132.21 L455.30,138.00 L455.48,144.54 L455.65,152.87 L455.82,162.39 L456.00,172.50 L456.21,169.29 L456.43,166.07 L456.64,162.86 L456.86,159.64 L457.07,156.43 L457.29,153.21 L457.50,150.00 L457.70,154.15 L457.90,158.37 L458.10,162.71 L458.30,167.23 L458.50,172.00 L458.71,177.43 L458.93,183.15 L459.14,189.13 L459.36,195.30 L459.57,201.62 L459.79,208.03 L460.00,214.50 L460.20,212.92 L460.40,211.33 L460.60,209.75 L460.80,208.17 L461.00,206.58 L461.20,205.00 L461.40,205.70 L461.60,206.40 L461.80,207.10 L462.00,207.80 L462.20,208.50 L462.40,204.41 L462.60,200.35 L462.80,196.35 L463.00,192.44 L463.20,188.65 L463.40,185.00 L463.58,181.80 L463.77,178.70 L463.95,175.69 L464.13,172.75 L464.32,169.86 L464.50,167.00 L464.70,163.96 L464.90,161.00 L465.10,162.50 L465.30,164.00 L465.50,165.50 L465.70,160.81 L465.90,156.27 L466.10,152.02 L466.30,148.22 L466.50,145.00 L466.70,142.57 L466.90,140.64 L467.10,138.64 L467.30,136.00 L467.48,132.21 L467.65,127.16 L467.82,122.03 L468.00,118.00 L468.20,114.93 L468.40,112.49 L468.60,110.29 L468.80,107.93 L469.00,105.00 L469.20,101.09 L469.40,96.50 L469.57,96.25 L469.75,96.00 L469.93,95.75 L470.10,95.50 L470.28,92.65 L470.46,89.89 L470.64,87.31 L470.82,84.98 L471.00,83.00 L471.20,81.08 L471.40,79.29 L471.60,77.66 L471.80,76.22 L472.00,74.99 L472.20,74.00 L472.40,73.14 L472.60,72.30 L472.80,71.50 L473.00,70.79 L473.20,70.18 L473.40,69.71 L473.60,69.41 L473.80,69.30 L474.01,69.43 L474.23,69.79 L474.44,70.35 L474.65,71.07 L474.86,71.93 L475.07,72.90 L475.29,73.93 L475.50,75.00 L475.71,76.32 L475.93,78.05 L476.14,80.11 L476.36,82.41 L476.57,84.88 L476.79,87.44 L477.00,90.00 L477.20,92.46 L477.40,95.11 L477.60,97.91 L477.80,100.83 L478.00,103.86 L478.20,106.96 L478.40,110.12 L478.60,113.30 L478.82,111.37 L479.04,109.44 L479.26,107.51 L479.48,105.58 L479.70,103.65 L479.92,101.72 L480.14,99.79 L480.36,97.86 L480.58,95.93 L480.80,94.00 L481.00,96.61 L481.20,99.48 L481.40,102.86 L481.60,107.00 L481.77,111.82 L481.93,118.07 L482.10,125.00 L482.30,135.25 L482.50,145.00 L482.71,152.23 L482.93,158.36 L483.14,163.76 L483.35,168.80 L483.54,162.83 L483.73,156.87 L483.93,150.90 L484.12,144.93 L484.31,138.97 L484.50,133.00 L484.70,134.33 L484.90,135.83 L485.10,137.66 L485.30,140.00 L485.50,143.63 L485.70,148.95 L485.90,155.50 L486.10,162.83 L486.30,170.48 L486.50,178.00 L486.70,185.76 L486.90,194.21 L487.10,203.00 L487.32,202.40 L487.54,201.80 L487.76,201.20 L487.98,200.60 L488.20,200.00 L488.40,197.00 L488.60,194.00 L488.80,191.00 L489.00,188.00 L489.20,185.33 L489.40,182.67 L489.60,180.00 L489.80,177.35 L490.00,174.60 L490.20,171.69 L490.40,168.52 L490.60,165.00 L490.80,160.27 L491.00,154.90 L491.20,151.00 L491.40,148.82 L491.60,147.12 L491.80,145.73 L492.00,144.50 L492.20,145.60 L492.40,146.70 L492.60,147.80 L492.80,148.90 L493.00,150.00 L493.20,145.92 L493.40,141.92 L493.60,138.05 L493.80,134.39 L494.00,131.00 L494.20,128.07 L494.40,125.52 L494.60,123.04 L494.80,120.30 L495.00,117.00 L495.20,112.62 L495.40,107.20 L495.60,101.28 L495.80,95.37 L496.00,90.00 L496.17,86.02 L496.33,82.21 L496.50,78.50 L496.68,79.38 L496.85,80.25 L497.02,81.12 L497.20,82.00 L497.42,79.68 L497.63,77.41 L497.85,75.26 L498.07,73.27 L498.28,71.50 L498.50,70.00 L498.71,68.69 L498.92,67.38 L499.13,66.08 L499.34,64.84 L499.55,63.67 L499.75,62.60 L499.96,61.67 L500.17,60.89 L500.38,60.30 L500.59,59.93 L500.80,59.80 L501.02,59.95 L501.24,60.37 L501.46,61.03 L501.68,61.91 L501.90,62.97 L502.12,64.19 L502.34,65.53 L502.56,66.97 L502.78,68.47 L503.00,70.00 L503.22,71.84 L503.43,74.21 L503.65,76.97 L503.87,79.95 L504.08,83.02 L504.30,86.00 L504.52,88.96 L504.73,92.03 L504.95,95.19 L505.17,98.43 L505.38,101.70 L505.60,105.00 L505.82,102.35 L506.04,99.70 L506.26,97.05 L506.48,94.40 L506.70,91.75 L506.92,89.10 L507.14,86.45 L507.36,83.80 L507.58,81.15 L507.80,78.50 L508.00,81.21 L508.20,84.19 L508.40,87.70 L508.60,92.00 L508.78,97.26 L508.95,104.18 L509.12,112.00 L509.30,120.00 L509.48,128.40 L509.66,137.37 L509.84,146.77 L510.02,156.46 L510.20,166.30 L510.40,160.26 L510.60,154.22 L510.80,148.19 L511.00,142.15 L511.20,136.11 L511.40,130.08 L511.60,124.04 L511.80,118.00 L512.00,119.17 L512.20,120.56 L512.40,122.43 L512.60,125.00 L512.77,130.61 L512.95,140.09 L513.12,150.27 L513.30,158.00 L513.51,164.24 L513.72,169.82 L513.94,174.81 L514.15,179.33 L514.36,183.46 L514.58,187.30 L514.79,190.95 L515.00,194.50 L515.18,190.08 L515.37,185.67 L515.55,181.25 L515.73,176.83 L515.92,172.42 L516.10,168.00 L516.30,165.00 L516.50,162.00 L516.71,156.93 L516.93,151.86 L517.14,146.79 L517.36,141.71 L517.57,136.64 L517.79,131.57 L518.00,126.50 L518.21,126.50 L518.43,126.50 L518.64,126.50 L518.86,126.50 L519.07,126.50 L519.29,126.50 L519.50,126.50 L519.67,129.17 L519.83,131.83 L520.00,134.50 L520.20,130.73 L520.40,127.16 L520.60,124.00 L520.80,121.41 L521.00,119.23 L521.20,117.14 L521.40,114.83 L521.60,112.00 L521.80,108.20 L522.00,103.47 L522.20,98.24 L522.40,92.94 L522.60,88.00 L522.78,83.80 L522.97,79.66 L523.15,75.58 L523.33,71.53 L523.52,67.51 L523.70,63.50 L523.90,64.80 L524.10,66.10 L524.30,67.40 L524.50,68.70 L524.70,70.00 L524.92,67.64 L525.13,65.34 L525.35,63.17 L525.57,61.18 L525.78,59.44 L526.00,58.00 L526.21,56.73 L526.43,55.48 L526.64,54.30 L526.86,53.26 L527.07,52.44 L527.29,51.90 L527.50,51.70 L527.71,51.79 L527.92,52.03 L528.12,52.43 L528.33,52.95 L528.54,53.59 L528.75,54.33 L528.96,55.16 L529.17,56.05 L529.38,56.99 L529.58,57.98 L529.79,58.99 L530.00,60.00 L530.21,61.13 L530.43,62.44 L530.64,63.94 L530.86,65.63 L531.07,67.54 L531.29,69.66 L531.50,72.00 L531.72,74.90 L531.93,78.54 L532.15,82.77 L532.37,87.43 L532.58,92.39 L532.80,97.50 L533.00,94.32 L533.20,91.14 L533.40,87.95 L533.60,84.77 L533.80,81.59 L534.00,78.41 L534.20,75.23 L534.40,72.05 L534.60,68.86 L534.80,65.68 L535.00,62.50 L535.20,68.66 L535.40,74.91 L535.60,81.33 L535.80,88.00 L536.00,94.55 L536.20,100.93 L536.40,107.74 L536.60,115.57 L536.80,125.00 L536.97,135.58 L537.13,148.98 L537.30,163.80 L537.51,156.66 L537.72,149.51 L537.93,142.37 L538.14,135.22 L538.36,128.08 L538.57,120.93 L538.78,113.79 L538.99,106.64 L539.20,99.50 L539.42,104.70 L539.64,109.88 L539.86,115.01 L540.08,120.05 L540.30,125.00 L540.47,128.57 L540.65,131.89 L540.83,135.52 L541.00,140.00 L541.20,146.94 L541.40,155.79 L541.60,166.06 L541.80,177.29 L542.00,189.00 L542.21,183.66 L542.43,178.29 L542.64,172.86 L542.86,167.35 L543.07,161.72 L543.29,155.95 L543.50,150.00 L543.67,145.19 L543.83,140.18 L544.00,135.00 L544.20,128.80 L544.40,122.36 L544.60,115.00 L544.80,105.82 L545.00,95.30 L545.20,97.04 L545.40,98.78 L545.60,100.52 L545.80,102.26 L546.00,104.00 L546.21,106.96 L546.43,109.91 L546.64,112.87 L546.86,115.83 L547.07,118.79 L547.29,121.74 L547.50,124.70 L547.70,119.59 L547.90,114.56 L548.10,109.67 L548.30,105.00 L548.50,100.70 L548.70,96.72 L548.90,92.88 L549.10,88.95 L549.30,84.72 L549.50,80.00 L549.67,75.46 L549.83,70.38 L550.00,65.00 L550.17,59.30 L550.33,53.24 L550.50,47.00 L550.72,48.83 L550.93,50.67 L551.15,52.50 L551.37,54.33 L551.58,56.17 L551.80,58.00 L552.00,56.86 L552.20,55.73 L552.40,54.59 L552.60,53.45 L552.80,52.32 L553.00,51.18 L553.20,50.05 L553.40,48.91 L553.60,47.77 L553.80,46.64 L554.00,45.50 L554.17,45.83 L554.33,46.17 L554.50,46.50 L554.72,45.50 L554.93,44.50 L555.15,43.50 L555.37,42.50 L555.58,41.50 L555.80,40.50 L556.00,42.00 L556.20,43.51 L556.40,45.05 L556.60,46.64 L556.80,48.28 L557.00,50.00 L557.21,51.82 L557.43,53.58 L557.64,55.38 L557.86,57.32 L558.07,59.50 L558.29,62.03 L558.50,65.00 L558.70,68.68 L558.90,73.51 L559.10,79.19 L559.30,85.45 L559.50,92.00 L559.70,88.68 L559.90,85.35 L560.10,81.97 L560.30,78.53 L560.50,75.00 L560.71,71.12 L560.93,67.15 L561.14,63.11 L561.36,59.01 L561.57,54.86 L561.79,50.69 L562.00,46.50 L562.21,47.63 L562.43,48.89 L562.64,50.42 L562.86,52.36 L563.07,54.85 L563.29,58.02 L563.50,62.00 L563.68,70.71 L563.87,86.44 L564.05,105.00 L564.25,129.88 L564.45,160.30 L564.67,151.67 L564.88,143.04 L565.10,134.41 L565.31,125.78 L565.53,117.15 L565.74,108.52 L565.96,99.89 L566.17,91.26 L566.38,82.63 L566.60,74.00 L566.81,76.27 L567.02,78.65 L567.24,81.27 L567.45,84.24 L567.66,87.68 L567.88,91.71 L568.09,96.45 L568.30,102.00 L568.47,109.40 L568.63,119.89 L568.80,130.00 L568.95,136.63 L569.10,145.00 L569.23,160.12 L569.35,182.00 L569.50,166.35 L569.65,153.18 L569.80,145.00 L570.00,139.94 L570.20,136.76 L570.40,133.94 L570.60,130.00 L570.80,124.09 L571.00,116.74 L571.20,108.52 L571.40,100.00 L571.60,91.08 L571.80,81.45 L572.00,71.35 L572.20,61.00 L572.42,64.25 L572.63,67.50 L572.85,70.75 L573.07,74.00 L573.28,77.25 L573.50,80.50" fill="none" stroke="#0000ff" stroke-width="1.6" stroke-linejoin="round" stroke-linecap="butt"/>
<rect x="79.7" y="41.7" width="168.3" height="25.5" fill="#fff" stroke="#000" stroke-width="0.9"/>
<line x1="85" y1="54.6" x2="121.8" y2="54.6" stroke="#0000ff" stroke-width="1.6"/>
<text x="125.0" y="58.8" font-size="11.85">Difference in States</text>
</svg>
</body></html>
